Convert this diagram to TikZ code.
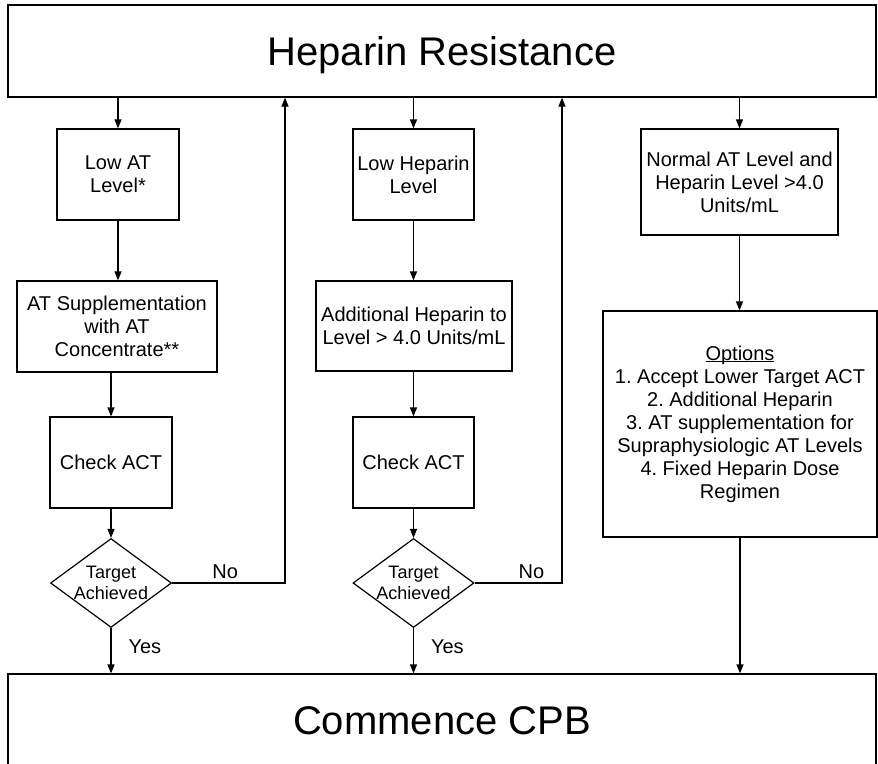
\documentclass[tikz,border=0pt]{standalone}
\usepackage{fontspec}
\setmainfont{Liberation Sans}
\usetikzlibrary{arrows.meta, shapes.geometric, positioning, calc}
\frenchspacing

\begin{document}
\begin{tikzpicture}[x=1pt, y=-1pt, >={Triangle[length=9pt, width=7pt]}, line width=1.2pt,
    stepbox/.style={draw, rectangle, align=center, inner sep=0pt, font=\fontsize{20}{23}\selectfont},
    bigbox/.style={draw, rectangle, minimum width=868pt, minimum height=92pt, inner sep=0pt,
      text height=28.6pt, text depth=0pt, font=\fontsize{40}{48}\selectfont},
    decision/.style={draw, diamond, aspect=1.36, inner sep=-2pt, minimum width=121pt,
      minimum height=89pt, align=center, font=\fontsize{18}{21}\selectfont},
    answer/.style={inner sep=0pt, font=\fontsize{20}{23}\selectfont}]
    %\draw[step=10, gray, very thin] (0,0) grid (878,763);
    \useasboundingbox (0,0) rectangle (878,763);
    \clip (0,0) rectangle (878,763);

    \node[bigbox] (heparin) at (442, 51) {Heparin Resistance};

    \node[stepbox, minimum width=122pt, minimum height=91pt] (lowat) at (118, 174.5) {Low AT\\Level*};
    \node[stepbox, minimum width=200pt, minimum height=91pt] (atsupp) at (117, 326.5) {AT Supplementation\\with AT\\Concentrate**};
    \node[stepbox, minimum width=122pt, minimum height=91pt] (check1) at (111, 462.5) {Check ACT};
    \node[decision] (target1) at (111, 583) {Target\\Achieved};

    \node[stepbox, minimum width=121pt, minimum height=91pt] (lowhep) at (413.5, 174.5) {Low Heparin\\Level};
    \node[stepbox, minimum width=196pt, minimum height=90pt] (addhep) at (414, 326) {Additional Heparin to\\Level > 4.0 Units/mL};
    \node[stepbox, minimum width=121pt, minimum height=91pt] (check2) at (413.5, 462.5) {Check ACT};
    \node[decision] (target2) at (413.5, 583) {Target\\Achieved};

    \node[stepbox, minimum width=197pt, minimum height=106pt] (normal) at (739.5, 182) {Normal AT Level and\\Heparin Level >4.0\\Units/mL};
    \node[stepbox, minimum width=274pt, minimum height=226pt] (options) at (740, 424) {
      \underline{\smash{Options}}\vphantom{Options}\\
      1. Accept Lower Target ACT\\
      2. Additional Heparin\\
      3. AT supplementation for\\
      Supraphysiologic AT Levels\\
      4. Fixed Heparin Dose\\
      Regimen
    };

    \node[bigbox] (cpb) at (442, 720) {Commence CPB};

    \coordinate (loop1) at (285, 583);
    \coordinate (loop2) at (562, 583);

    \draw[->] (heparin.south -| lowat) -- (lowat.north);
    \draw[->] (lowat.south) -- (lowat.south |- atsupp.north);
    \draw[->] (atsupp.south -| check1) -- (check1.north);
    \draw[->] (check1.south) -- (target1.north);
    \draw[->] (target1.south) -- node[answer, right=17pt, pos=0.42] (yes1) {Yes} (target1.south |- cpb.north);
    \draw[->] (target1.east) -- node[answer, above=4pt, pos=0.47] (no1) {No} (loop1) -- (loop1 |- heparin.south);

    \draw[->] (heparin.south -| lowhep) -- (lowhep.north);
    \draw[->] (lowhep.south) -- (lowhep.south |- addhep.north);
    \draw[->] (addhep.south -| check2) -- (check2.north);
    \draw[->] (check2.south) -- (target2.north);
    \draw[->] (target2.south) -- node[answer, right=17pt, pos=0.42] (yes2) {Yes} (target2.south |- cpb.north);
    \draw[->] (target2.east) -- node[answer, above=4pt, pos=0.65] (no2) {No} (loop2) -- (loop2 |- heparin.south);

    \draw[->] (heparin.south -| normal) -- (normal.north);
    \draw[->] (normal.south) -- (normal.south |- options.north);
    \draw[->] (options.south) -- (options.south |- cpb.north);

  \end{tikzpicture}
\end{document}
